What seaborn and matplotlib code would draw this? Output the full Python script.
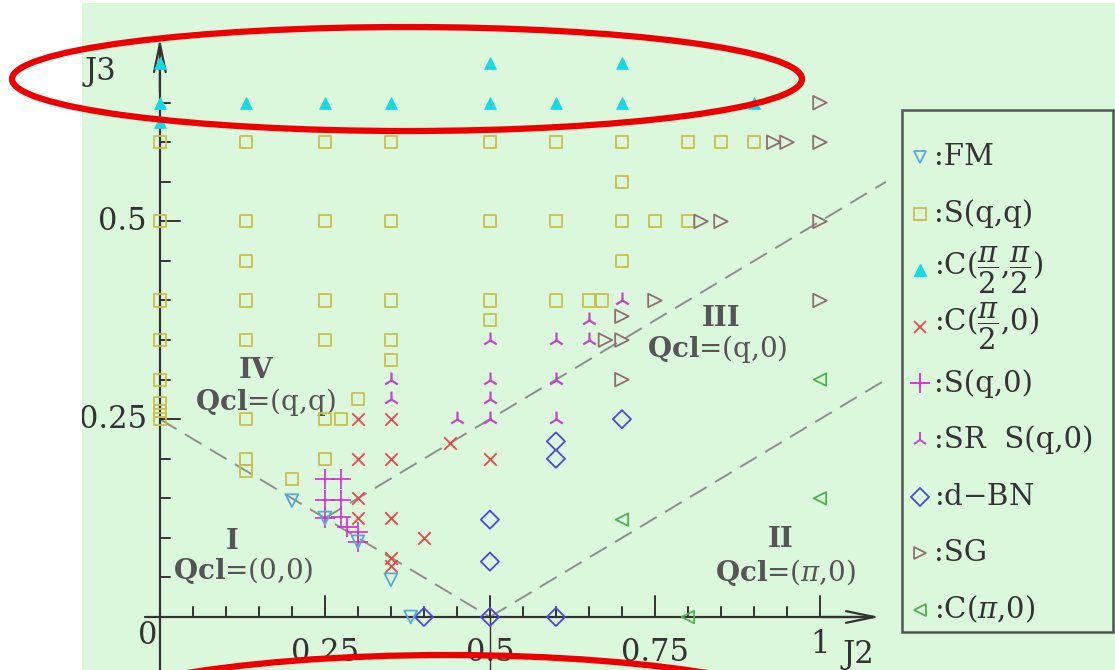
import matplotlib
matplotlib.use("Agg")
import matplotlib.pyplot as plt
from matplotlib.lines import Line2D
from matplotlib.patches import Ellipse, Rectangle
import seaborn as sns

sns.set_theme(style="white")
plt.rcParams["font.family"] = ["DejaVu Serif", "DejaVu Sans"]
plt.rcParams["mathtext.fontset"] = "dejavuserif"

# ---- phase points (J2, J3) ----
fm_j2 = [0.20, 0.25, 0.30, 0.35, 0.38]
fm_j3 = [0.147, 0.125, 0.095, 0.047, 0.0]

sqq_j2 = [0, 0, 0, 0, 0, 0, 0, 0,
          0.13, 0.13, 0.13, 0.13, 0.13, 0.13, 0.13, 0.13,
          0.20,
          0.25, 0.25, 0.25, 0.25, 0.25, 0.25,
          0.275, 0.30,
          0.35, 0.35, 0.35, 0.35, 0.35,
          0.50, 0.50, 0.50, 0.50,
          0.60, 0.60, 0.60,
          0.65, 0.67,
          0.70, 0.70, 0.70, 0.70,
          0.75, 0.80, 0.80, 0.85, 0.90]
sqq_j3 = [0.60, 0.50, 0.40, 0.35, 0.30, 0.27, 0.26, 0.25,
          0.60, 0.50, 0.45, 0.40, 0.35, 0.25, 0.20, 0.185,
          0.175,
          0.60, 0.50, 0.40, 0.35, 0.25, 0.20,
          0.25, 0.275,
          0.60, 0.50, 0.40, 0.35, 0.325,
          0.60, 0.50, 0.40, 0.375,
          0.60, 0.50, 0.40,
          0.40, 0.40,
          0.60, 0.55, 0.50, 0.45,
          0.50, 0.60, 0.50, 0.60, 0.60]

cpp_j2 = [0, 0, 0, 0.13, 0.25, 0.35, 0.50, 0.50, 0.60, 0.70, 0.70, 0.90]
cpp_j3 = [0.70, 0.65, 0.625, 0.65, 0.65, 0.65, 0.70, 0.65, 0.65, 0.70, 0.65, 0.65]

cp0_j2 = [0.30, 0.35, 0.30, 0.35, 0.30, 0.30, 0.35, 0.40, 0.35, 0.35, 0.44, 0.50]
cp0_j3 = [0.25, 0.25, 0.20, 0.20, 0.15, 0.125, 0.125, 0.10, 0.075, 0.065, 0.22, 0.20]

sq0_j2 = [0.25, 0.275, 0.25, 0.275, 0.25, 0.275, 0.283, 0.30, 0.30]
sq0_j3 = [0.174, 0.174, 0.148, 0.148, 0.125, 0.127, 0.114, 0.108, 0.095]

sr_j2 = [0.35, 0.35, 0.45, 0.50, 0.50, 0.50, 0.50, 0.60, 0.60, 0.60, 0.65, 0.65, 0.70]
sr_j3 = [0.30, 0.275, 0.25, 0.35, 0.30, 0.275, 0.25, 0.35, 0.30, 0.25, 0.375, 0.35, 0.40]

dbn_j2 = [0.40, 0.50, 0.60, 0.50, 0.50, 0.60, 0.60, 0.70]
dbn_j3 = [0.0, 0.0, 0.0, 0.07, 0.123, 0.20, 0.222, 0.25]

sg_j2 = [1.0, 0.93, 0.95, 1.0, 0.82, 0.85, 1.0, 0.75, 1.0, 0.70, 0.675, 0.70, 0.70]
sg_j3 = [0.65, 0.60, 0.60, 0.60, 0.50, 0.50, 0.50, 0.40, 0.40, 0.38, 0.35, 0.35, 0.30]

cpi_j2 = [0.70, 0.80, 1.0, 1.0]
cpi_j3 = [0.123, 0.0, 0.15, 0.30]

# phase boundaries (dashed)
bound_a_j2, bound_a_j3 = [0.0, 0.5], [0.25, 0.0]
bound_b_j2, bound_b_j3 = [0.25, 1.1], [0.125, 0.55]
bound_c_j2, bound_c_j3 = [0.5, 1.1], [0.0, 0.30]

x_major = [0.25, 0.5, 0.75, 1.0]
x_major_labels = ["0.25", "0.5", "0.75", "1"]
y_major = [0.25, 0.5]
y_major_labels = ["0.25", "0.5"]

legend_labels = [":FM", ":S(q,q)", r":C($\dfrac{\pi}{2}$,$\dfrac{\pi}{2}$)",
                 r":C($\dfrac{\pi}{2}$,0)", ":S(q,0)", ":SR  S(q,0)",
                 r":d$-$BN", ":SG", r":C($\pi$,0)"]

BG = "#dcf8dc"
C_FM = "#5aa8d8"
C_SQQ = "#c8c048"
C_CPP = "#18d8e0"
C_CP0 = "#e84848"
C_SQ0 = "#d828d8"
C_SR = "#c048c8"
C_DBN = "#4848e0"
C_SG = "#8c7070"
C_CPI = "#50b050"
INK = "#333333"
LBL = "#555555"

W, H = 1115, 670
fig = plt.figure(figsize=(W / 100, H / 100), dpi=100)
fig.patch.set_facecolor("white")
ax = fig.add_axes([82 / W, 0, 1 - 82 / W, 1 - 3 / H])
ax.set_facecolor(BG)
ax.set_xlim(-0.118, 1.447)
ax.set_ylim(-0.067, 0.776)
for s in ax.spines.values():
    s.set_visible(False)
ax.set_xticks([])
ax.set_yticks([])

def fx(px):
    return px / W

def fy(py):
    return 1 - py / H

# dashed boundaries
for bx, by in [(bound_a_j2, bound_a_j3), (bound_b_j2, bound_b_j3), (bound_c_j2, bound_c_j3)]:
    sns.lineplot(x=bx, y=by, ax=ax, color="#8e8e8e", lw=1.4,
                 linestyle=(0, (10, 5)), zorder=2, legend=False)

# axes with arrows
ax.plot([-0.023, 1.08], [0, 0], color=INK, lw=1.6, zorder=3)
ax.plot([0, 0], [-0.09, 0.72], color=INK, lw=1.6, zorder=3)
arrow = dict(arrowstyle="->,head_length=1.7,head_width=0.35", color=INK, lw=1.6)
ax.annotate("", xy=(1.095, 0), xytext=(1.0, 0), arrowprops=arrow, zorder=3)
ax.annotate("", xy=(0, 0.735), xytext=(0, 0.66), arrowprops=arrow, zorder=3)

# tick marks
for i in range(1, 21):
    xv = i * 0.05
    h = 0.026 if i % 5 == 0 else 0.013
    ax.plot([xv, xv], [0, h], color=INK, lw=1.4, zorder=3)
for i in range(1, 14):
    yv = i * 0.05
    w = 0.03 if i % 5 == 0 else 0.015
    ax.plot([0, w], [yv, yv], color=INK, lw=1.4, zorder=3)
ax.plot([0.5, 0.5], [0, -0.07], color=INK, lw=1.0, zorder=3)

# tick labels
fs_tick = 22
ax.text(-0.018, -0.023, "0", ha="center", va="center", fontsize=fs_tick, color=INK)
for xv, lab in zip(x_major, x_major_labels):
    yy = -0.035 if lab == "1" else -0.045
    ax.text(xv, yy, lab, ha="center", va="center", fontsize=fs_tick, color=INK)
for yv, lab in zip(y_major, y_major_labels):
    ax.text(-0.02, yv, lab, ha="right", va="center", fontsize=fs_tick, color=INK, clip_on=True)
ax.text(-0.09, 0.69, "J3", ha="center", va="center", fontsize=fs_tick, color=INK)
ax.text(1.058, -0.047, "J2", ha="center", va="center", fontsize=fs_tick, color=INK)

# phase data
def open_pts(x, y, marker, color, size, lw=1.3):
    sns.scatterplot(x=x, y=y, ax=ax, marker=marker, s=size, facecolors="none",
                    edgecolor=color, linewidth=lw, zorder=5, legend=False)

def line_pts(x, y, marker, color, size, lw=1.3):
    sns.scatterplot(x=x, y=y, ax=ax, marker=marker, s=size, color=color,
                    linewidth=lw, zorder=5, legend=False)

open_pts(sqq_j2, sqq_j3, "s", C_SQQ, 75)
sns.scatterplot(x=cpp_j2, y=cpp_j3, ax=ax, marker="^", s=70, color=C_CPP,
                edgecolor=C_CPP, zorder=5, legend=False)
line_pts(cp0_j2, cp0_j3, "x", C_CP0, 80)
line_pts(sq0_j2, sq0_j3, "+", C_SQ0, 200, lw=1.2)
line_pts(sr_j2, sr_j3, "2", C_SR, 130, lw=1.6)
open_pts(dbn_j2, dbn_j3, "D", C_DBN, 85)
open_pts(sg_j2, sg_j3, ">", C_SG, 95)
open_pts(cpi_j2, cpi_j3, "<", C_CPI, 80)
open_pts(fm_j2, fm_j3, "v", C_FM, 85)

# region labels
fs_reg = 20
reg = dict(ha="center", va="baseline", fontsize=fs_reg, color=LBL)
ax.text(0.145, 0.302, "IV", fontweight="bold", **reg)
ax.text(0.16, 0.262, r"$\mathbf{Qcl}$=(q,q)", **reg)
ax.text(0.85, 0.368, "III", fontweight="bold", **reg)
ax.text(0.845, 0.328, r"$\mathbf{Qcl}$=(q,0)", **reg)
ax.text(0.11, 0.086, "I", fontweight="bold", **reg)
ax.text(0.127, 0.048, r"$\mathbf{Qcl}$=(0,0)", **reg)
ax.text(0.94, 0.088, "II", fontweight="bold", **reg)
ax.text(0.948, 0.045, r"$\mathbf{Qcl}$=($\pi$,0)", **reg)

# legend panel
fig.add_artist(Rectangle((fx(902), fy(632)), fx(1113) - fx(902), fy(110) - fy(632),
                         transform=fig.transFigure, facecolor=BG, edgecolor="#555555",
                         lw=1.8, zorder=6))
leg_markers = [
    dict(marker="v", ms=9, mfc="none", mec=C_FM, mew=1.3),
    dict(marker="s", ms=8, mfc="none", mec=C_SQQ, mew=1.3),
    dict(marker="^", ms=8, mfc=C_CPP, mec=C_CPP),
    dict(marker="x", ms=9, mec=C_CP0, mew=1.3),
    dict(marker="+", ms=14, mec=C_SQ0, mew=1.3),
    dict(marker="2", ms=11, mec=C_SR, mew=1.4),
    dict(marker="D", ms=9, mfc="none", mec=C_DBN, mew=1.3),
    dict(marker=">", ms=9, mfc="none", mec=C_SG, mew=1.3),
    dict(marker="<", ms=9, mfc="none", mec=C_CPI, mew=1.3),
]
for i, (mk, lab) in enumerate(zip(leg_markers, legend_labels)):
    yy = fy(157 + 56.6 * i)
    fig.add_artist(Line2D([fx(920)], [yy], ls="none", transform=fig.transFigure,
                          zorder=7, **mk))
    fig.text(fx(934), yy, lab, ha="left", va="center", fontsize=21, color=INK, zorder=7)

# red highlight ellipses
fig.patches.append(Ellipse((fx(407), fy(79)), 790 / W, 104 / H,
                           transform=fig.transFigure, fill=False, ec="#ee0000", lw=4.5,
                           zorder=10))
fig.patches.append(Ellipse((fx(447), fy(730)), 800 / W, 150 / H,
                           transform=fig.transFigure, fill=False, ec="#ee0000", lw=4.5,
                           zorder=10))

fig.savefig("out.png", dpi=100)
